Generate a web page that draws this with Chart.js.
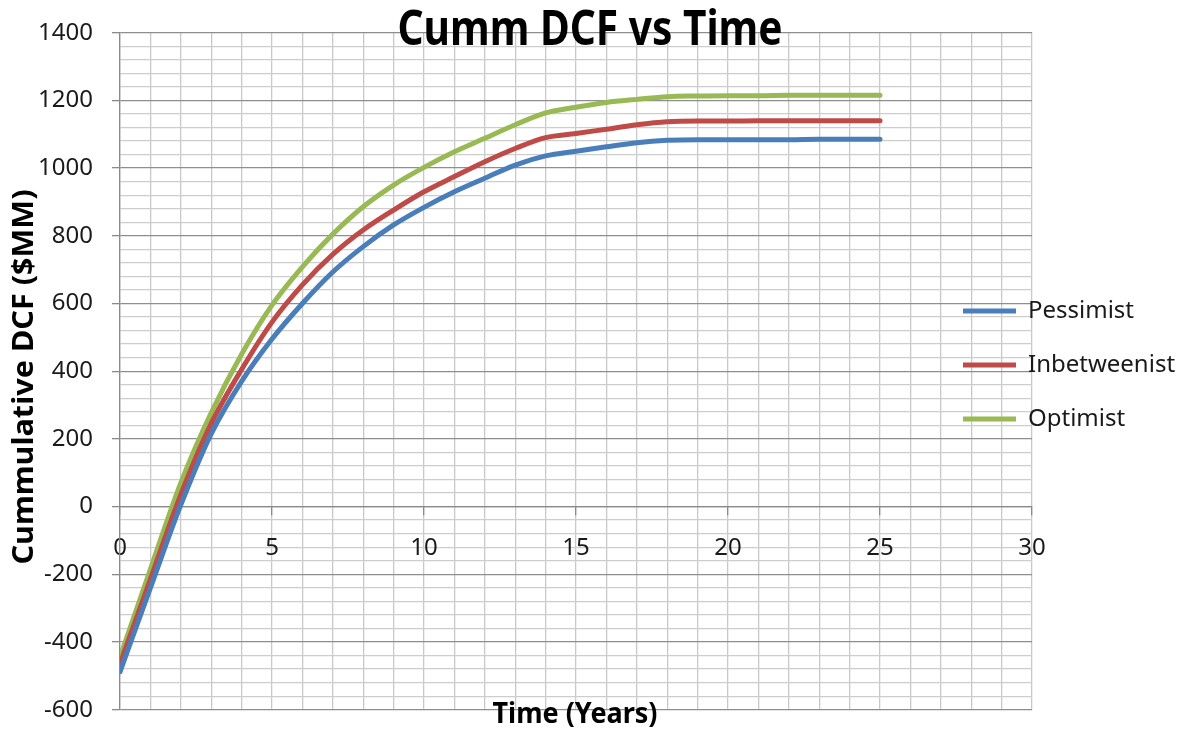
<!DOCTYPE html>
<html>
<head>
<meta charset="utf-8">
<script src="https://cdn.jsdelivr.net/npm/chart.js@4.4.1/dist/chart.umd.min.js"></script>
<style>
  html, body { margin: 0; padding: 0; background: #ffffff; }
  #wrap { width: 1177px; height: 731px; position: relative; }
</style>
</head>
<body>
<div id="wrap"><canvas id="c" width="1177" height="731"></canvas></div>
<script>
// ---- Data ----
const years = [0, 1, 2, 3, 4, 5, 6, 7, 8, 9, 10, 11, 12, 13, 14, 15, 16, 17, 18, 19, 20, 21, 22, 23, 24, 25];
const pessimist    = [-488, -240, 5, 215, 370, 495, 600, 693, 768, 832, 884, 930, 970, 1009, 1036, 1050, 1063, 1075, 1082, 1084, 1084, 1084, 1084, 1085, 1085, 1085];
const inbetweenist = [-465, -215, 35, 245, 405, 545, 655, 745, 817, 876, 930, 975, 1019, 1058, 1090, 1102, 1115, 1128, 1137, 1139, 1139, 1140, 1140, 1140, 1140, 1140];
const optimist     = [-445, -185, 70, 277, 450, 595, 708, 805, 886, 950, 1002, 1048, 1088, 1128, 1163, 1180, 1194, 1203, 1211, 1213, 1214, 1214, 1215, 1215, 1215, 1215];
const seriesNames = ['Pessimist', 'Inbetweenist', 'Optimist'];
const xTickLabels = [0, 5, 10, 15, 20, 25, 30];
const yTickLabels = [-600, -400, -200, 0, 200, 400, 600, 800, 1000, 1200, 1400];
const chartTitle = 'Cumm DCF vs Time';
const xTitle = 'Time (Years)';
const yTitle = 'Cummulative DCF ($MM)';

const FONT = '"Noto Sans", "Open Sans", sans-serif';
Chart.defaults.font.family = FONT;

function toPoints(vals) { return years.map((x, i) => ({ x: x, y: vals[i] })); }

function drawScaled(ctx, text, cx, baseY, targetW) {
  const w = ctx.measureText(text).width;
  const s = targetW / w;
  ctx.save();
  ctx.translate(cx, baseY);
  ctx.scale(s, 1);
  ctx.textAlign = 'center';
  ctx.textBaseline = 'alphabetic';
  ctx.fillText(text, 0, 0);
  ctx.restore();
}

const titlesPlugin = {
  id: 'titlesPlugin',
  afterLayout(chart) {
    const lg = chart.legend;
    if (lg) {
      lg.left = 933; lg.right = 1177; lg.width = 244;
      lg.top = 269; lg.bottom = 500; lg.height = 231;
    }
  },
  afterDraw(chart) {
    const ctx = chart.ctx;
    ctx.save();
    ctx.fillStyle = '#000000';
    ctx.font = 'bold 49px ' + FONT;
    drawScaled(ctx, chartTitle, 590, 45, 385);
    ctx.font = 'bold 28px ' + FONT;
    drawScaled(ctx, xTitle, 575, 723, 165);
    ctx.save();
    ctx.translate(33, 377);
    ctx.rotate(-Math.PI / 2);
    drawScaled(ctx, yTitle, 0, 0, 375);
    ctx.restore();
    ctx.restore();
  }
};

const colors = ['#4a7ebb', '#be4b48', '#98b954'];
const allSeries = [pessimist, inbetweenist, optimist];

new Chart(document.getElementById('c'), {
  type: 'line',
  data: {
    datasets: allSeries.map((vals, i) => ({
      label: seriesNames[i],
      data: toPoints(vals),
      borderColor: colors[i],
      backgroundColor: colors[i],
      borderWidth: 5,
      borderCapStyle: 'round',
      borderJoinStyle: 'round',
      pointRadius: 0,
      pointHoverRadius: 0,
      cubicInterpolationMode: 'monotone',
      fill: false
    }))
  },
  options: {
    responsive: false,
    animation: false,
    devicePixelRatio: 1,
    events: [],
    layout: { padding: { left: 0, right: 145, top: 32.7, bottom: 21.3 } },
    plugins: {
      title: { display: false },
      tooltip: { enabled: false },
      legend: {
        display: true,
        position: 'chartArea',
        align: 'start',
        labels: {
          usePointStyle: true,
          pointStyle: 'line',
          pointStyleWidth: 53,
          padding: 30,
          color: '#1a1a1a',
          font: { family: FONT, size: 24 }
        }
      }
    },
    scales: {
      x: {
        type: 'linear',
        min: 0,
        max: 30,
        position: { y: 0 },
        ticks: {
          stepSize: 1,
          autoSkip: false,
          maxRotation: 0,
          padding: 19,
          color: '#1a1a1a',
          font: { family: FONT, size: 24 },
          callback: (v) => xTickLabels.includes(Math.round(v)) && Math.abs(v - Math.round(v)) < 1e-6 ? String(Math.round(v)) : ''
        },
        grid: {
          color: '#c9c9c9',
          lineWidth: 1.3,
          tickLength: 8,
          tickColor: (c) => (c.tick && xTickLabels.includes(Math.round(c.tick.value))) ? '#8a8a8a' : 'rgba(0,0,0,0)'
        },
        border: { color: '#8a8a8a', width: 1.3 }
      },
      y: {
        type: 'linear',
        min: -600,
        max: 1400,
        position: 'left',
        afterFit: (s) => { s.width = 120; s.paddingTop = 0; s.paddingBottom = 0; },
        ticks: {
          stepSize: 40,
          autoSkip: false,
          padding: 19,
          color: '#1a1a1a',
          font: { family: FONT, size: 24 },
          callback: (v) => yTickLabels.includes(Math.round(v)) ? String(Math.round(v)) : ''
        },
        grid: {
          color: (c) => (c.tick && yTickLabels.includes(Math.round(c.tick.value))) ? '#8e8e8e' : '#cdcdcd',
          lineWidth: 1.3,
          tickLength: 8,
          tickColor: (c) => (c.tick && yTickLabels.includes(Math.round(c.tick.value))) ? '#8a8a8a' : 'rgba(0,0,0,0)'
        },
        border: { color: '#8a8a8a', width: 1.3 }
      }
    }
  },
  plugins: [titlesPlugin]
});
</script>
</body>
</html>
